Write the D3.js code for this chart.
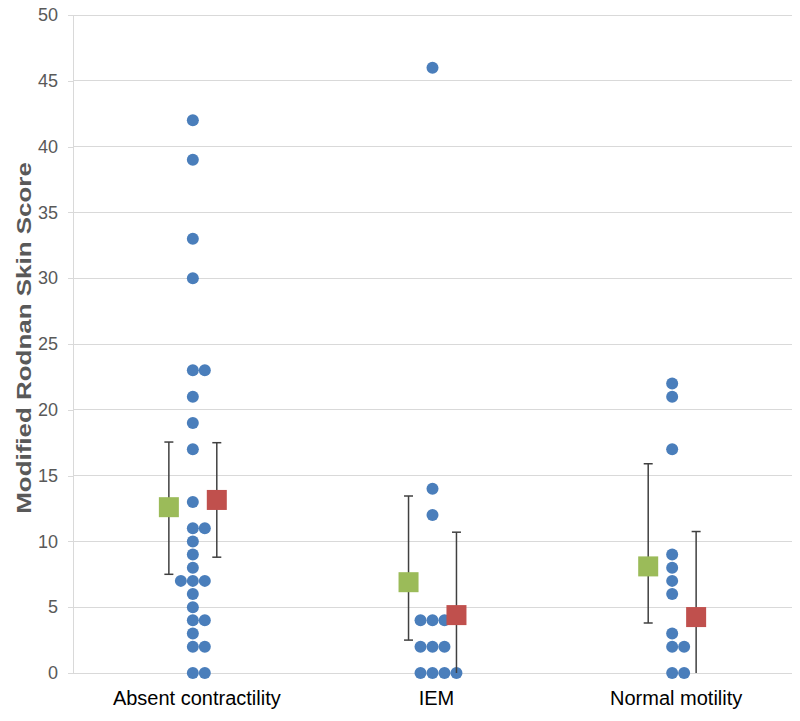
<!DOCTYPE html>
<html>
<head>
<meta charset="utf-8">
<script src="https://cdn.jsdelivr.net/npm/d3@7"></script>
<style>
  body { margin: 0; background: #fff; }
  svg { display: block; }
</style>
</head>
<body>
<svg id="chart" width="800" height="721"></svg>
<script>
// ---- Data ----
const categories = ["Absent contractility", "IEM", "Normal motility"];
const absentValues = [42, 39, 33, 30, 23, 23, 21, 19, 17, 13, 11, 11, 10, 9, 8, 7, 7, 7, 6, 5, 4, 4, 3, 2, 2, 0, 0];
const iemValues = [46, 14, 12, 4, 4, 4, 2, 2, 2, 0, 0, 0, 0];
const normalValues = [22, 21, 17, 9, 8, 7, 6, 3, 2, 2, 0, 0];
const groupValues = [absentValues, iemValues, normalValues];

const greenMean = [12.6, 6.9, 8.1];
const greenLow = [7.5, 2.5, 3.8];
const greenHigh = [17.55, 13.45, 15.9];
const redMean = [13.15, 4.4, 4.25];
const redLow = [8.8, -1.9, -2.2];
const redHigh = [17.5, 10.7, 10.75];

const yTicks = [0, 5, 10, 15, 20, 25, 30, 35, 40, 45, 50];
const yTitle = "Modified Rodnan Skin Score";

// ---- Layout ----
const svg = d3.select("#chart");
const pLeft = 73, pRight = 792, pTop = 15, pBottom = 673;
const x = d3.scaleLinear().domain([0.5, 3.5]).range([pLeft, pRight]);
const y = d3.scaleLinear().domain([0, 50]).range([pBottom, pTop]);
const dotStep = 0.05, sideOffset = 0.1;

const C = { dot: "#4a7ebb", green: "#9bbb59", red: "#c0504d", grid: "#d9d9d9", err: "#404040" };

// gridlines
svg.append("g").selectAll("line").data(yTicks).join("line")
  .attr("x1", pLeft).attr("x2", pRight)
  .attr("y1", d => y(d)).attr("y2", d => y(d))
  .attr("stroke", C.grid).attr("stroke-width", 1).attr("shape-rendering", "crispEdges");

// y axis
const yAxis = d3.axisLeft(y).tickValues(yTicks).tickSize(5).tickPadding(10);
const ya = svg.append("g").attr("transform", `translate(${pLeft},0)`).call(yAxis);
ya.select(".domain").attr("stroke", C.grid).attr("shape-rendering", "crispEdges");
ya.selectAll(".tick line").attr("stroke", C.grid).attr("shape-rendering", "crispEdges");
ya.selectAll(".tick text").attr("fill", "#595959")
  .style("font-family", "'Liberation Sans', Arial, sans-serif").style("font-size", "18px");

// x category labels
svg.append("g").selectAll("text").data(categories).join("text")
  .attr("x", (d, i) => x(i + 1) + 4).attr("y", 705)
  .attr("text-anchor", "middle").attr("fill", "#000")
  .style("font-family", "'Liberation Sans', Arial, sans-serif").style("font-size", "20px")
  .text(d => d);

// y title (reference text is slightly stretched along its length)
svg.append("text")
  .attr("transform", `translate(31,338) rotate(-90) scale(1.18,0.95)`)
  .attr("text-anchor", "middle").attr("fill", "#595959")
  .style("font-family", "'Liberation Sans', Arial, sans-serif").style("font-size", "22px").style("font-weight", "bold")
  .text(yTitle);

// dots: identical values placed side by side
const dots = [];
groupValues.forEach((vals, gi) => {
  const counts = d3.rollup(vals, v => v.length, v => v);
  counts.forEach((n, v) => {
    const start = -Math.floor((n - 1) / 2);
    for (let k = 0; k < n; k++) dots.push({ xv: gi + 1 + (start + k) * dotStep, v });
  });
});
svg.append("g").selectAll("circle").data(dots).join("circle")
  .attr("cx", d => x(d.xv)).attr("cy", d => y(d.v)).attr("r", 6).attr("fill", C.dot);

// error bars + squares
function series(mean, low, high, off, color) {
  const g = svg.append("g");
  const data = mean.map((m, i) => ({ xv: i + 1 + off, m, lo: low[i], hi: high[i] }));
  const cap = 4.5;
  data.forEach(d => {
    const cx = x(d.xv);
    const yl = y(Math.max(0, d.lo)), yh = y(Math.min(50, d.hi));
    g.append("line").attr("x1", cx).attr("x2", cx).attr("y1", yl).attr("y2", yh)
      .attr("stroke", C.err).attr("stroke-width", 1.5);
    g.append("line").attr("x1", cx - cap).attr("x2", cx + cap).attr("y1", yh).attr("y2", yh)
      .attr("stroke", C.err).attr("stroke-width", 1.5);
    if (d.lo >= 0) {
      g.append("line").attr("x1", cx - cap).attr("x2", cx + cap).attr("y1", yl).attr("y2", yl)
        .attr("stroke", C.err).attr("stroke-width", 1.5);
    }
  });
  g.selectAll("rect").data(data).join("rect")
    .attr("x", d => x(d.xv) - 10).attr("y", d => y(d.m) - 10)
    .attr("width", 20).attr("height", 20).attr("fill", color);
}
series(greenMean, greenLow, greenHigh, -sideOffset, C.green);
series(redMean, redLow, redHigh, sideOffset, C.red);
</script>
</body>
</html>
